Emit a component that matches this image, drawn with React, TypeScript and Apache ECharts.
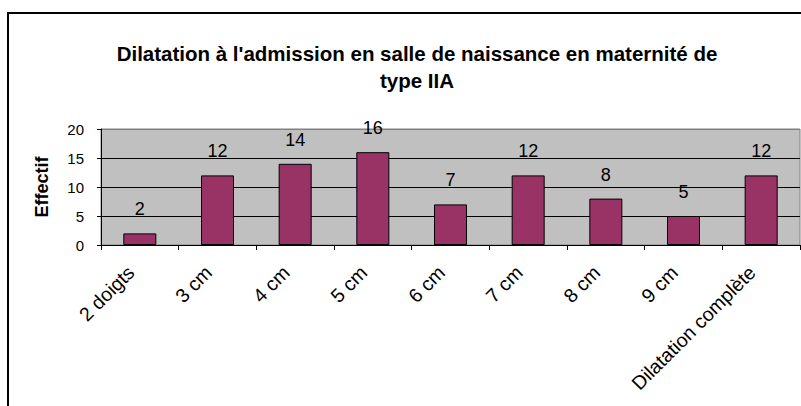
import React, { useEffect, useRef } from "react";
import * as echarts from "echarts";

const categories = ["2 doigts", "3 cm", "4 cm", "5 cm", "6 cm", "7 cm", "8 cm", "9 cm", "Dilatation complète"];
const effectif = [2, 12, 14, 16, 7, 12, 8, 5, 12];
const titleText = "Dilatation à l'admission en salle de naissance en maternité de\ntype IIA";
const yAxisName = "Effectif";

const FONT = "'Liberation Sans', Arial, sans-serif";

export default function App() {
  const ref = useRef<HTMLDivElement>(null);
  useEffect(() => {
    if (!ref.current) return;
    const chart = echarts.init(ref.current, null, { renderer: "svg" });
    chart.setOption({
      animation: false,
      backgroundColor: "#ffffff",
      graphic: [
        {
          type: "rect",
          shape: { x: 8, y: 13, width: 840, height: 430 },
          style: { fill: "none", stroke: "#000", lineWidth: 2 },
          z: 10,
        },
        {
          type: "text",
          x: 417,
          y: 67,
          style: {
            text: titleText,
            font: `bold 20.5px ${FONT}`,
            fill: "#000",
            textAlign: "center",
            textVerticalAlign: "middle",
            lineHeight: 27,
          },
        },
      ],
      grid: {
        left: 101,
        top: 129,
        right: 1,
        bottom: 161,
        show: true,
        backgroundColor: "#C0C0C0",
        borderColor: "#808080",
        borderWidth: 1,
      },
      xAxis: {
        type: "category",
        data: categories,
        axisLine: { show: true, lineStyle: { color: "#000", width: 1 } },
        axisTick: { show: true, length: 5, alignWithLabel: false, lineStyle: { color: "#000" } },
        axisLabel: {
          rotate: 45,
          interval: 0,
          margin: 15,
          padding: [0, 13, 0, 0],
          color: "#000",
          fontSize: 19.5,
          fontFamily: FONT,
        },
        splitLine: { show: false },
      },
      yAxis: {
        type: "value",
        min: 0,
        max: 20,
        interval: 5,
        name: yAxisName,
        nameLocation: "middle",
        nameRotate: 90,
        nameGap: 50,
        nameTextStyle: { fontSize: 18, fontWeight: "bold", color: "#000", fontFamily: FONT },
        axisLine: { show: true, lineStyle: { color: "#000", width: 1 } },
        axisTick: { show: true, length: 4, lineStyle: { color: "#000" } },
        axisLabel: { color: "#000", fontSize: 15, fontFamily: FONT, margin: 17 },
        splitLine: {
          show: true,
          lineStyle: { color: ["#000", "#000", "#000", "#000", "#808080"], width: 1 },
        },
      },
      series: [
        {
          type: "bar",
          data: effectif,
          barWidth: 33,
          itemStyle: { color: "#993366", borderColor: "#000", borderWidth: 1 },
          label: {
            show: true,
            position: "top",
            distance: 15,
            color: "#000",
            fontSize: 18,
            fontFamily: FONT,
          },
        },
      ],
    });
    return () => chart.dispose();
  }, []);
  return (
    <div
      ref={ref}
      style={{ position: "fixed", left: 0, top: 0, width: 801, height: 406 }}
    />
  );
}
